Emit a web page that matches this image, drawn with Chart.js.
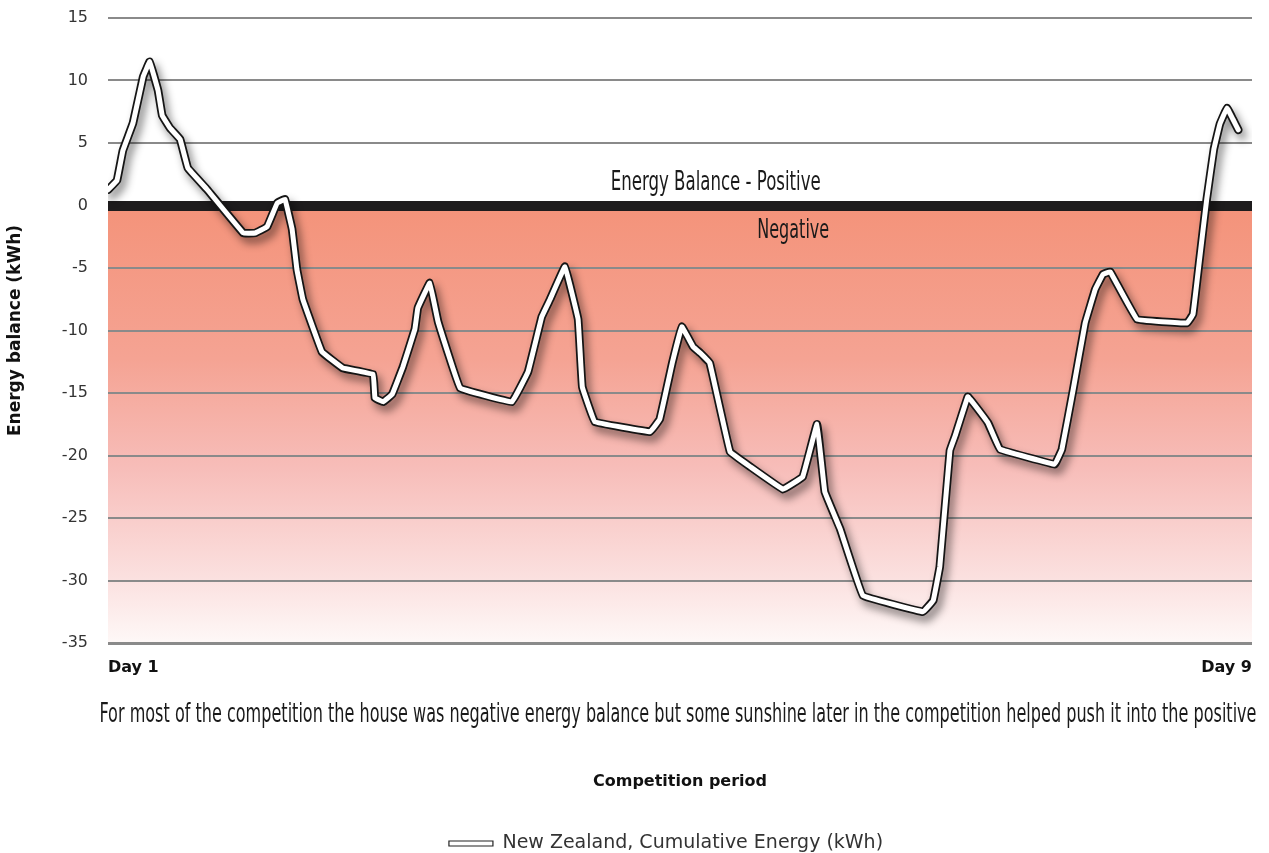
<!DOCTYPE html>
<html>
<head>
<meta charset="utf-8">
<script src="https://cdn.jsdelivr.net/npm/chart.js@4.4.1/dist/chart.umd.min.js"></script>
<style>
  html, body { margin: 0; padding: 0; background: #fff; }
  #wrap { width: 1269px; height: 853px; }
</style>
</head>
<body>
<div id="wrap"><canvas id="chart" width="1269" height="853"></canvas></div>
<script>
/* Cumulative energy balance over the 9-day competition.
   x = hours since start of Day 1, y = kWh */

const HOURS = [0, 1.5, 2.5, 4.2, 5.9, 7.0, 8.4, 9.1, 10.4, 12.1, 13.4, 16.6, 22.7, 24.7, 26.7, 28.4, 29.7, 30.9, 31.7, 32.7,
  35.9, 39.4, 44.5, 44.8, 46.2, 47.7, 49.5, 51.5, 52.0, 54.0, 55.4, 59.1, 67.8, 70.5, 72.8, 74.2, 76.7, 78.9, 79.6, 81.7,
  91.0, 92.6, 94.7, 96.3, 98.2, 99.4, 101.0, 104.4, 107.8, 113.3, 116.6, 119.0, 120.3, 122.9, 126.7, 136.8, 138.5, 139.6,
  141.3, 142.2, 144.3, 145.2, 147.7, 149.7, 158.9, 160.1, 162.0, 164.0, 165.7, 167.0, 168.2, 172.7, 181.1, 182.1, 183.2,
  184.4, 185.6, 186.6, 187.8, 188.8, 189.7];

const ENERGY = [1.26, 2.0, 4.4, 6.6, 10.3, 11.5, 9.2, 7.2, 6.2, 5.3, 3.0, 1.3, -2.2, -2.2, -1.7, 0.2, 0.5, -1.9, -5.1, -7.5,
  -11.7, -13.0, -13.5, -15.4, -15.7, -15.1, -12.9, -9.9, -8.2, -6.2, -9.3, -14.6, -15.7, -13.3, -8.9, -7.5, -4.9, -9.1, -14.5, -17.3,
  -18.1, -17.1, -12.6, -9.7, -11.3, -11.8, -12.6, -19.7, -20.9, -22.7, -21.7, -17.5, -22.9, -25.9, -31.2, -32.5, -31.6, -28.9,
  -19.6, -18.4, -15.3, -15.8, -17.4, -19.5, -20.7, -19.5, -14.7, -9.4, -6.7, -5.5, -5.3, -9.1, -9.4, -8.7, -4.3,
  0.5, 4.5, 6.5, 7.8, 6.9, 6.05];

const X_TICKS = [0, 192];
const X_LABELS = ["Day 1", "Day 9"];
const Y_MIN = -35, Y_MAX = 15, Y_STEP = 5;

const SERIES_NAME = "New Zealand, Cumulative Energy (kWh)";
const X_TITLE = "Competition period";
const Y_TITLE = "Energy balance (kWh)";
const CAPTION = "For most of the competition the house was negative energy balance but some sunshine later in the competition helped push it into the positive";

// handwritten notes, placed in data units (hour, kWh at baseline)
const NOTES = [
  { text: "Energy Balance - Positive", x: 102, y: 1.25, width: 210 },
  { text: "Negative", x: 115, y: -2.6, width: 72 },
];

const SANS = "'DejaVu Sans', sans-serif";
const HAND = "'Liberation Sans Narrow', 'DejaVu Sans Condensed', sans-serif";

const points = HOURS.map((h, i) => ({ x: h, y: ENERGY[i] }));

function handText(ctx, text, cx, baseline, width, size) {
  ctx.save();
  ctx.font = `${size}px ${HAND}`;
  const w = ctx.measureText(text).width;
  ctx.translate(cx, baseline);
  ctx.scale(width / w, 1);
  ctx.fillStyle = "#1a1a1a";
  ctx.textAlign = "center";
  ctx.textBaseline = "alphabetic";
  ctx.fillText(text, 0, 0);
  ctx.restore();
}

const decor = {
  id: "decor",
  beforeDraw(chart) {
    // negative region shading (below the 0 line)
    const { ctx, chartArea: a, scales: { y } } = chart;
    const y0 = y.getPixelForValue(0);
    const g = ctx.createLinearGradient(0, y0, 0, a.bottom);
    g.addColorStop(0, "#f4937a");
    g.addColorStop(0.35, "#f5a393");
    g.addColorStop(0.6, "#f7bdb9");
    g.addColorStop(0.85, "#fbe0df");
    g.addColorStop(1, "#fef8f7");
    ctx.save();
    ctx.fillStyle = g;
    ctx.fillRect(a.left, y0, a.right - a.left, a.bottom - y0);
    ctx.restore();
  },
  beforeDatasetsDraw(chart) {
    const { ctx, chartArea: a, scales: { y } } = chart;
    const y0 = y.getPixelForValue(0);
    ctx.save();
    ctx.fillStyle = "#1e1c1d";
    ctx.fillRect(a.left, y0 - 4.5, a.right - a.left, 10);
    ctx.restore();
  },
  beforeDatasetDraw(chart, args) {
    if (args.index !== 1) return;
    const ctx = chart.ctx;
    ctx.save();
    ctx.shadowColor = "rgba(0,0,0,0.45)";
    ctx.shadowBlur = 9;
    ctx.shadowOffsetX = 4;
    ctx.shadowOffsetY = 6;
  },
  afterDatasetDraw(chart, args) {
    if (args.index === 1) chart.ctx.restore();
  },
  afterDatasetsDraw(chart) {
    const { ctx, scales: { x, y } } = chart;
    NOTES.forEach(n => handText(ctx, n.text, x.getPixelForValue(n.x), y.getPixelForValue(n.y), n.width, 26));
  },
  afterLayout(chart) {
    // legend sits a little right of centre and lower in the original
    const lg = chart.legend;
    if (lg) { lg.left += 40; lg.right += 40; lg.top += 10; lg.bottom += 10; }
  },
  afterDraw(chart) {
    const { ctx, chartArea: a } = chart;
    handText(ctx, CAPTION, 678, a.bottom + 79, 1157, 26);
  }
};

new Chart(document.getElementById("chart"), {
  type: "line",
  data: {
    datasets: [
      { label: SERIES_NAME, data: points, borderColor: "#ffffff", borderWidth: 5,
        pointRadius: 0, tension: 0.05, borderCapStyle: "round", borderJoinStyle: "round", fill: false },
      { label: "outline", data: points, borderColor: "#151515", borderWidth: 8.5,
        pointRadius: 0, tension: 0.05, borderCapStyle: "round", borderJoinStyle: "round", fill: false }
    ]
  },
  options: {
    responsive: false,
    animation: false,
    parsing: false,
    layout: { padding: { top: 18, right: 17, left: 0, bottom: 0 } },
    plugins: {
      tooltip: { enabled: false },
      legend: {
        position: "bottom",
        labels: {
          font: { family: SANS, size: 19 },
          color: "#333",
          boxWidth: 44,
          boxHeight: 5,
          padding: 4,
          generateLabels: () => [{
            text: SERIES_NAME, fillStyle: "#ffffff", strokeStyle: "#222", lineWidth: 1.2,
            hidden: false, datasetIndex: 0, fontColor: "#333"
          }]
        }
      }
    },
    scales: {
      x: {
        type: "linear",
        min: X_TICKS[0],
        max: X_TICKS[1],
        afterBuildTicks: s => { s.ticks = X_TICKS.map(v => ({ value: v })); },
        afterFit: s => { s.height = 177; },
        ticks: {
          callback: (v) => X_LABELS[X_TICKS.indexOf(v)],
          align: "inner",
          maxRotation: 0,
          padding: 15,
          color: "#111",
          font: { family: SANS, size: 16, weight: "bold" }
        },
        grid: { display: false, drawTicks: false },
        border: { display: false },
        title: {
          display: true, text: X_TITLE, color: "#111",
          font: { family: SANS, size: 16, weight: "bold" },
          padding: { top: 0, bottom: 29 }
        }
      },
      y: {
        min: Y_MIN,
        max: Y_MAX,
        afterFit: s => { s.width = 108; s.paddingTop = 0; s.paddingBottom = 0; },
        ticks: {
          stepSize: Y_STEP,
          padding: 20,
          color: "#333",
          font: { family: SANS, size: 16 }
        },
        grid: {
          drawTicks: false,
          color: "#8a8a8a",
          lineWidth: c => (c.tick && c.tick.value === Y_MIN ? 3 : 2)
        },
        border: { display: false },
        title: {
          display: true, text: Y_TITLE, color: "#111",
          font: { family: SANS, size: 17, weight: "bold" },
          padding: { top: 5, bottom: 0 }
        }
      }
    }
  },
  plugins: [decor]
});
</script>
</body>
</html>
